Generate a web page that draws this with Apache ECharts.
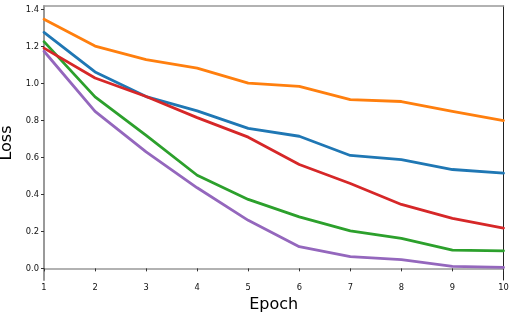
<!DOCTYPE html>
<html>
<head>
<meta charset="utf-8">
<script src="https://cdn.jsdelivr.net/npm/echarts@6/dist/echarts.min.js"></script>
<style>html,body{margin:0;padding:0;background:#fff;}#c{width:515px;height:319px;}</style>
</head>
<body>
<div id="c"></div>
<script>
const epochs = [1, 2, 3, 4, 5, 6, 7, 8, 9, 10];
const blueLoss   = [1.277, 1.063, 0.93, 0.852, 0.758, 0.715, 0.611, 0.589, 0.535, 0.515];
const orangeLoss = [1.348, 1.203, 1.13, 1.084, 1.003, 0.985, 0.913, 0.903, 0.85, 0.80];
const greenLoss  = [1.227, 0.928, 0.72, 0.504, 0.373, 0.279, 0.203, 0.162, 0.099, 0.095];
const redLoss    = [1.192, 1.03, 0.93, 0.816, 0.71, 0.562, 0.459, 0.346, 0.27, 0.218];
const purpleLoss = [1.175, 0.85, 0.63, 0.436, 0.26, 0.117, 0.063, 0.047, 0.011, 0.005];
const yTicks = [0.0, 0.2, 0.4, 0.6, 0.8, 1.0, 1.2, 1.4];
const xTicks = [1, 2, 3, 4, 5, 6, 7, 8, 9, 10];

const seriesDefs = [
  ['blue', blueLoss, '#1f77b4'],
  ['orange', orangeLoss, '#ff7f0e'],
  ['green', greenLoss, '#2ca02c'],
  ['red', redLoss, '#d62728'],
  ['purple', purpleLoss, '#9467bd']
];

const chart = echarts.init(document.getElementById('c'), null, {renderer: 'canvas'});
const font = 'DejaVu Sans';
chart.setOption({
  animation: false,
  grid: {left: 44, right: 11.5, top: 6, bottom: 39, containLabel: false, outerBoundsMode: 'none'},
  xAxis: [{
    type: 'value', min: 1, max: 10, interval: 1,
    name: 'Epoch', nameLocation: 'middle', nameGap: 17,
    nameTextStyle: {fontFamily: font, fontSize: 16, color: '#000'},
    axisLine: {show: true, lineStyle: {color: '#999', width: 1.6}},
    axisTick: {show: true, length: 3, inside: false, lineStyle: {color: '#333', width: 1}, customValues: xTicks},
    axisLabel: {fontFamily: font, fontSize: 8.3, color: '#111', margin: 4, customValues: xTicks},
    splitLine: {show: false}
  }, {
    type: 'value', position: 'top', min: 1, max: 10,
    axisLine: {show: true, onZero: false, lineStyle: {color: '#999', width: 1.6}},
    axisTick: {show: false}, axisLabel: {show: false}, splitLine: {show: false}
  }],
  yAxis: [{
    type: 'value', min: -0.063, max: 1.42,
    name: 'Loss', nameLocation: 'middle', nameGap: 23, nameRotate: 90,
    nameTextStyle: {fontFamily: font, fontSize: 16, color: '#000'},
    axisLine: {show: true, onZero: false, lineStyle: {color: '#999', width: 2}},
    axisTick: {show: true, length: 3, inside: false, lineStyle: {color: '#333', width: 1}, customValues: yTicks},
    axisLabel: {fontFamily: font, fontSize: 8.3, color: '#111', margin: 5, customValues: yTicks,
      formatter: v => v.toFixed(1)},
    splitLine: {show: false}
  }, {
    type: 'value', position: 'right', min: -0.063, max: 1.42,
    axisLine: {show: true, onZero: false, lineStyle: {color: '#222', width: 1}},
    axisTick: {show: false}, axisLabel: {show: false}, splitLine: {show: false}
  }],
  series: seriesDefs.map(([name, vals, color]) => ({
    name, type: 'line', xAxisIndex: 0, yAxisIndex: 0,
    data: epochs.map((e, i) => [e, vals[i]]),
    showSymbol: false, symbol: 'none',
    lineStyle: {color, width: 2.8, cap: 'round', join: 'round'},
    itemStyle: {color}
  }))
});
</script>
</body>
</html>
